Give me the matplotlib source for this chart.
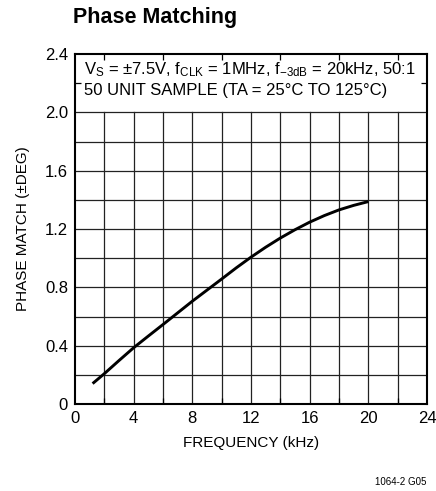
import matplotlib
matplotlib.use("Agg")
import matplotlib.pyplot as plt
from matplotlib import font_manager as fm
import numpy as np

names = {f.name for f in fm.fontManager.ttflist}
FONT = "Liberation Sans Narrow" if "Liberation Sans Narrow" in names else "Liberation Sans"
plt.rcParams['font.family'] = [FONT, 'DejaVu Sans']
plt.rcParams['mathtext.fontset'] = 'custom'
plt.rcParams['mathtext.rm'] = FONT
plt.rcParams['mathtext.it'] = FONT
plt.rcParams['mathtext.default'] = 'rm'

freq_khz = [1.2, 2, 3, 4, 5, 6, 7, 8, 9, 10, 11, 12, 13, 14, 15, 16, 17, 18, 19, 20]
phase_match = [0.14, 0.208, 0.298, 0.386, 0.466, 0.545, 0.625, 0.705, 0.781, 0.857,
               0.934, 1.007, 1.075, 1.138, 1.195, 1.247, 1.292, 1.331, 1.362, 1.388]
x_ticks = [0, 4, 8, 12, 16, 20, 24]
y_ticks = [0, 0.4, 0.8, 1.2, 1.6, 2.0, 2.4]
y_tick_labels = ["0", "0.4", "0.8", "1.2", "1.6", "2.0", "2.4"]

fig = plt.figure(figsize=(4.36, 4.91), dpi=100)
ax = fig.add_axes([75/436, 1-404/491, 352/436, 350/491])
ax.set_xlim(0, 24)
ax.set_ylim(0, 2.4)

# grid (only up to 2.0)
for gx in np.arange(2, 24, 2):
    ax.plot([gx, gx], [0, 2.0], color='#222222', lw=0.9, zorder=1)
for gy in np.arange(0.2, 2.01, 0.2):
    ax.plot([0, 24], [gy, gy], color='#222222', lw=0.9, zorder=1)

ax.plot(freq_khz, phase_match, color='black', lw=2.1, solid_capstyle='butt',
        solid_joinstyle='round', zorder=3)

ax.set_xticks(x_ticks)
ax.set_yticks(y_ticks)
ax.set_yticklabels(y_tick_labels)
ax.set_xticks(np.arange(0, 25, 2), minor=True)
ax.set_yticks([2.2], minor=True)
ax.tick_params(which='both', direction='in', width=0.9, top=True, right=True,
               labelsize=12, pad=5)
ax.tick_params(which='major', length=0)
ax.tick_params(which='minor', length=4)
for s in ax.spines.values():
    s.set_linewidth(1.5)

ax.set_xlabel("FREQUENCY (kHz)", fontsize=11, labelpad=7)
ax.set_ylabel("PHASE MATCH (\u00b1DEG)", fontsize=11, labelpad=11)

line1 = "V$_\\mathregular{S}$ = \u00b17.5V, f$_\\mathregular{CLK}$ = 1MHz, f$_\\mathregular{-3dB}$ = 20kHz, 50:1"
ax.text(0.6, 2.355, line1, fontsize=12, va='top', ha='left')
ax.text(0.6, 2.2, "50 UNIT SAMPLE (TA = 25\u00b0C TO 125\u00b0C)",
        fontsize=12, va='top', ha='left')

fig.text(73/436, 1-18/491, "Phase Matching", fontsize=15.5, fontweight='bold', va='center', ha='left')
fig.text(426/436, 1-482/491, "1064-2 G05", fontsize=7, va='center', ha='right')

fig.savefig("out.png", dpi=100)
